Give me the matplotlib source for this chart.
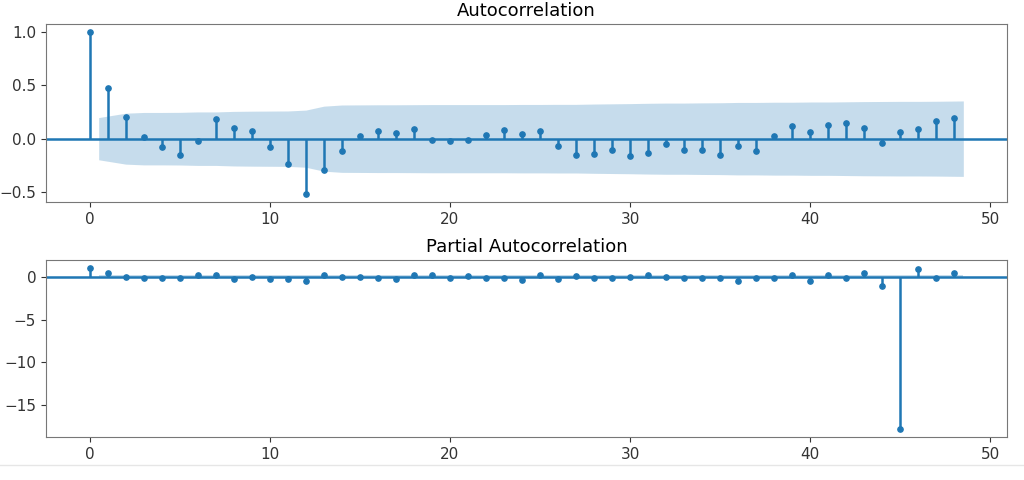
import numpy as np
import matplotlib.pyplot as plt
from matplotlib.lines import Line2D

lags = list(range(49))

# autocorrelation values
acf_vals = [1.0, 0.478, 0.207, 0.019, -0.075, -0.157, -0.022, 0.189, 0.10, 0.072,
            -0.075, -0.239, -0.519, -0.292, -0.12, 0.025, 0.072, 0.053, 0.091, -0.016,
            -0.022, -0.013, 0.031, 0.085, 0.044, 0.072, -0.066, -0.151, -0.142, -0.11,
            -0.167, -0.132, -0.047, -0.104, -0.11, -0.157, -0.072, -0.12, 0.025, 0.116,
            0.063, 0.126, 0.145, 0.10, -0.038, 0.063, 0.094, 0.164, 0.192]

# half width of the shaded band, lags 1..48
acf_band = [0.198, 0.239, 0.246, 0.246, 0.247, 0.251, 0.251, 0.256, 0.258, 0.259,
            0.260, 0.268, 0.305, 0.316, 0.317, 0.318, 0.318, 0.319, 0.320, 0.320,
            0.320, 0.320, 0.320, 0.321, 0.321, 0.322, 0.322, 0.325, 0.327, 0.329,
            0.332, 0.334, 0.334, 0.336, 0.337, 0.340, 0.340, 0.342, 0.342, 0.344,
            0.344, 0.346, 0.348, 0.349, 0.350, 0.350, 0.351, 0.354]

# partial autocorrelation values
pacf_vals = [1.0, 0.48, -0.03, -0.15, -0.1, -0.15, 0.15, 0.2, -0.25, 0.0,
             -0.25, -0.25, -0.48, 0.15, 0.0, 0.0, -0.12, -0.25, 0.25, 0.15,
             -0.15, 0.03, -0.2, -0.1, -0.4, 0.15, -0.3, 0.03, -0.2, -0.2,
             0.0, 0.2, 0.0, -0.12, -0.2, -0.2, -0.45, -0.1, -0.1, 0.2,
             -0.5, 0.25, -0.1, 0.48, -1.07, -17.8, 0.9, -0.2, 0.48]
pacf_band = [0.198] * 48

col = '#1f77b4'


def corr_plot(ax, vals, band, title):
    x = np.array(lags, dtype=float)
    ax.vlines(x, 0, vals, color=col, lw=1.8)
    ax.plot(x, vals, 'o', color=col, markersize=3.8)
    ax.axhline(0, color=col, lw=1.8)
    bx = x[1:].copy()
    bx[0] -= 0.5
    bx[-1] += 0.5
    b = np.array(band)
    ax.fill_between(bx, -b, b, color=col, alpha=0.25, lw=0)
    ax.set_title(title, fontsize=13)
    ax.tick_params(labelsize=11, colors='#333333')
    for s in ax.spines.values():
        s.set_color('#777777')


fig = plt.figure(figsize=(10.24, 4.8), dpi=100)
ax1 = fig.add_axes([0.0449, 0.579, 0.9385, 0.371])
ax2 = fig.add_axes([0.0449, 0.0896, 0.9385, 0.3684])

corr_plot(ax1, acf_vals, acf_band, 'Autocorrelation')
corr_plot(ax2, pacf_vals, pacf_band, 'Partial Autocorrelation')
ax1.set_yticks([-0.5, 0.0, 0.5, 1.0])
ax2.set_yticks([-15, -10, -5, 0])

fig.add_artist(Line2D([0, 1], [0.031, 0.031], color='#e6e6e6', lw=1))

fig.savefig('out.png', dpi=100)
